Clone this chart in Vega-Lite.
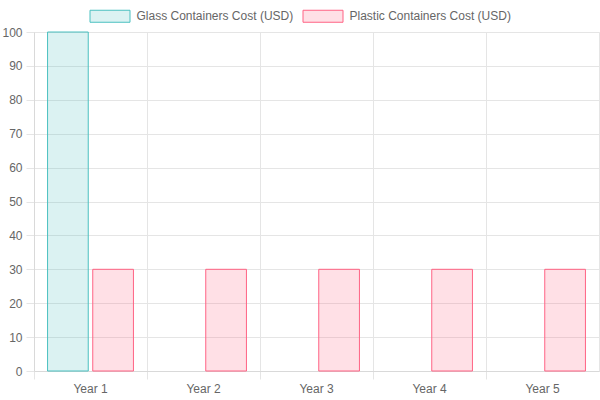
{
  "$schema": "https://vega.github.io/schema/vega-lite/v6.json",
  "autosize": "none",
  "width": 565,
  "height": 339,
  "padding": {"left": 34, "top": 32, "right": 1, "bottom": 29},
  "background": "#ffffff",
  "view": {"stroke": "#e5e5e5", "strokeWidth": 1},
  "config": {
    "font": "Liberation Sans",
    "axis": {
      "labelFont": "Liberation Sans",
      "labelFontSize": 12,
      "labelColor": "#666666",
      "gridColor": "#e5e5e5",
      "tickColor": "#e5e5e5",
      "domainColor": "#d9d9d9",
      "tickSize": 8,
      "title": null
    }
  },
  "data": {
    "values": [
      {"year": "Year 1", "series": "Glass Containers Cost (USD)", "cost": 100},
      {"year": "Year 2", "series": "Glass Containers Cost (USD)", "cost": 0},
      {"year": "Year 3", "series": "Glass Containers Cost (USD)", "cost": 0},
      {"year": "Year 4", "series": "Glass Containers Cost (USD)", "cost": 0},
      {"year": "Year 5", "series": "Glass Containers Cost (USD)", "cost": 0},
      {"year": "Year 1", "series": "Plastic Containers Cost (USD)", "cost": 30},
      {"year": "Year 2", "series": "Plastic Containers Cost (USD)", "cost": 30},
      {"year": "Year 3", "series": "Plastic Containers Cost (USD)", "cost": 30},
      {"year": "Year 4", "series": "Plastic Containers Cost (USD)", "cost": 30},
      {"year": "Year 5", "series": "Plastic Containers Cost (USD)", "cost": 30}
    ]
  },
  "mark": {"type": "bar", "strokeWidth": 1},
  "encoding": {
    "x": {
      "field": "year",
      "type": "nominal",
      "scale": {"paddingInner": 0, "paddingOuter": 0},
      "axis": {"labelAngle": 0, "bandPosition": 0, "grid": true, "labelPadding": 4, "domain": true}
    },
    "xOffset": {
      "field": "series",
      "type": "nominal",
      "scale": {"paddingInner": 0.1, "paddingOuter": 0.3}
    },
    "y": {
      "field": "cost",
      "type": "quantitative",
      "scale": {"domain": [0, 100], "nice": false},
      "axis": {"values": [0, 10, 20, 30, 40, 50, 60, 70, 80, 90, 100], "labelOverlap": false, "labelPadding": 4, "domain": true}
    },
    "fill": {
      "field": "series",
      "type": "nominal",
      "scale": {
        "domain": ["Glass Containers Cost (USD)", "Plastic Containers Cost (USD)"],
        "range": ["rgba(75,192,192,0.2)", "rgba(255,99,132,0.2)"]
      },
      "legend": {
        "title": null,
        "orient": "none",
        "direction": "horizontal",
        "legendX": 55.5,
        "legendY": -36.5,
        "symbolType": "M-1,-0.3H1V0.3H-1Z",
        "symbolSize": 1600,
        "symbolStrokeWidth": 1,
        "labelFont": "Liberation Sans",
        "labelFontSize": 12,
        "labelColor": "#666666",
        "labelLimit": 0,
        "labelOffset": 6,
        "columnPadding": 7,
        "padding": 0
      }
    },
    "stroke": {
      "field": "series",
      "type": "nominal",
      "scale": {
        "domain": ["Glass Containers Cost (USD)", "Plastic Containers Cost (USD)"],
        "range": ["rgb(75,192,192)", "rgb(255,99,132)"]
      },
      "legend": {"title": null}
    },
    "strokeOpacity": {
      "condition": {"test": "datum.cost == 0", "value": 0},
      "value": 1
    }
  }
}
